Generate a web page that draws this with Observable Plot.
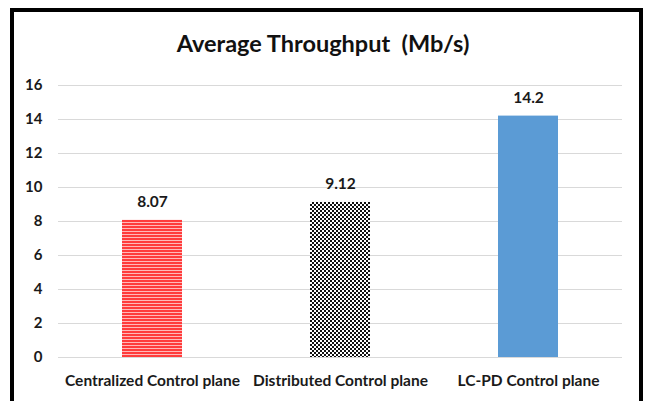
<!DOCTYPE html>
<html>
<head>
<meta charset="utf-8">
<script src="https://cdn.jsdelivr.net/npm/d3@7"></script>
<script src="https://cdn.jsdelivr.net/npm/@observablehq/plot@0.6"></script>
<style>
  html, body { margin: 0; padding: 0; background: #fff; overflow: hidden; }
  #wrap { position: relative; width: 646px; height: 401px; font-family: Lato, "Open Sans", sans-serif; }
  #frame { position: absolute; left: 10px; top: 8px; width: 633px; height: 430px; box-sizing: border-box;
           border: 4px solid #000; border-bottom: none; pointer-events: none; }
  #title { height: 70px; line-height: 70px; padding-top: 8px; box-sizing: border-box; text-align: center;
           font-size: 23.5px; font-weight: bold; color: #111; white-space: pre; }
</style>
</head>
<body>
<div id="wrap">
  <div id="title">Average Throughput  (Mb/s)</div>
  <div id="chart"></div>
  <div id="frame"></div>
</div>
<script>
const categories = ["Centralized Control plane", "Distributed Control plane", "LC-PD Control plane"];
const values = [8.07, 9.12, 14.2];
const valueLabels = ["8.07", "9.12", "14.2"];
const fills = ["url(#redStripes)", "url(#checker)", "#5B9BD5"];
const yTicks = [0, 2, 4, 6, 8, 10, 12, 14, 16];

const data = categories.map((c, i) => ({cat: c, v: values[i], label: valueLabels[i], fill: fills[i]}));

const chart = Plot.plot({
  width: 646,
  height: 331,
  marginTop: 15,
  marginBottom: 44,
  marginLeft: 58,
  marginRight: 24,
  style: {fontFamily: "Lato, 'Open Sans', sans-serif", fontWeight: "bold", color: "#1a1a1a", background: "transparent"},
  x: {domain: categories, paddingInner: 0.68, paddingOuter: 0.34, label: null},
  y: {domain: [0, 16], label: null},
  color: {type: "identity"},
  marks: [
    Plot.gridY(yTicks, {stroke: "#d9d9d9", strokeOpacity: 1, strokeWidth: 1}),
    Plot.axisY(yTicks, {tickSize: 0, tickPadding: 16, fontSize: 15, fontWeight: "bold", label: null}),
    Plot.axisX({tickSize: 0, tickPadding: 17, fontSize: 15.5, fontWeight: "bold", label: null}),
    Plot.barY(data, {x: "cat", y: "v", fill: "fill"}),
    Plot.text(data, {x: "cat", y: "v", text: "label", dy: -18, fontSize: 15.5, fontWeight: "bold", fill: "#1a1a1a"})
  ]
});

const ns = "http://www.w3.org/2000/svg";
const defs = document.createElementNS(ns, "defs");
defs.innerHTML = `
  <pattern id="redStripes" patternUnits="userSpaceOnUse" width="4" height="3">
    <rect width="4" height="3" fill="#ffb8b8"></rect>
    <rect width="4" height="2" fill="#ff3b3b"></rect>
  </pattern>
  <pattern id="checker" patternUnits="userSpaceOnUse" width="4" height="4">
    <rect width="4" height="4" fill="#ffffff"></rect>
    <rect width="2" height="2" fill="#111"></rect>
    <rect x="2" y="2" width="2" height="2" fill="#111"></rect>
  </pattern>`;
chart.insertBefore(defs, chart.firstChild);
document.getElementById("chart").appendChild(chart);
</script>
</body>
</html>
